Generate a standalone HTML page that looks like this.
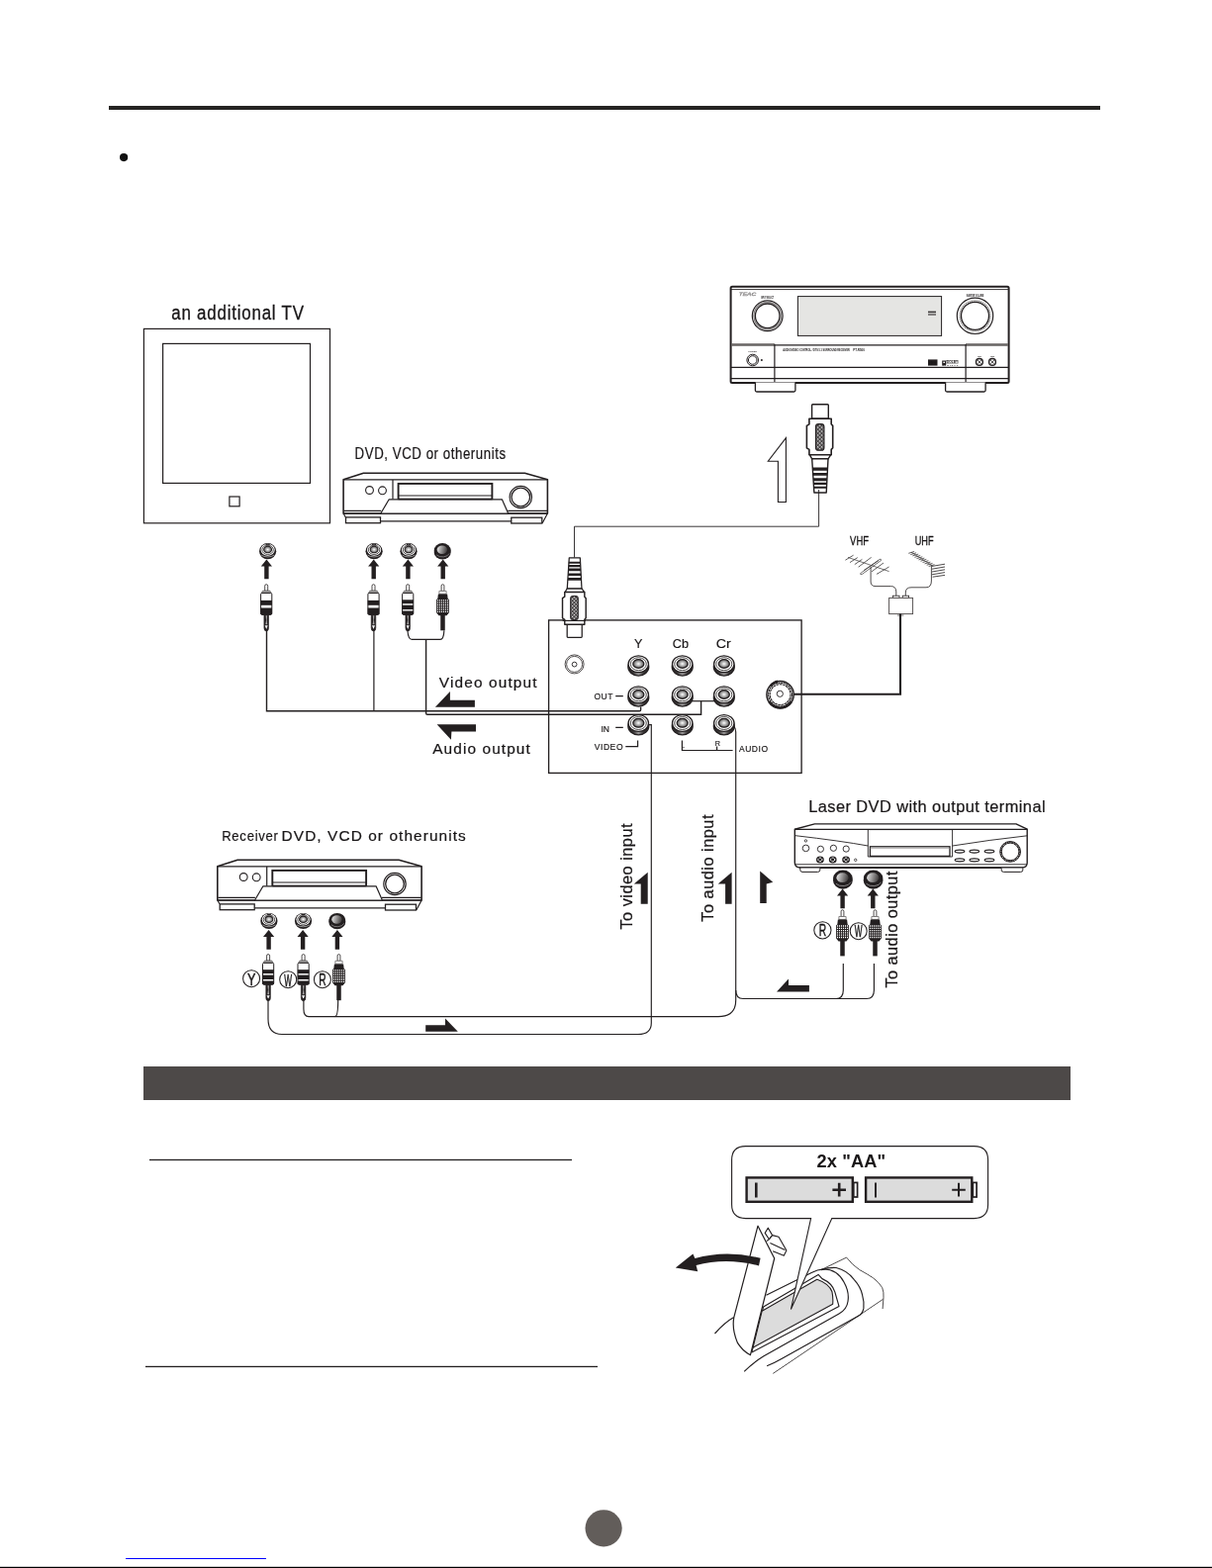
<!DOCTYPE html>
<html lang="en">
<head>
<meta charset="utf-8">
<title>Connections</title>
<style>
html,body{margin:0;padding:0;background:#fff;}
body{width:1225px;height:1585px;overflow:hidden;position:relative;font-family:"Liberation Sans",sans-serif;}
svg{position:absolute;left:0;top:0;display:block;will-change:transform;}
text{font-family:"Liberation Sans",sans-serif;fill:#1a1718;}
.ln{fill:none;stroke:#231f20;stroke-width:1.2;}
.th{fill:none;stroke:#231f20;stroke-width:0.9;}
.k{fill:#231f20;}
.w{fill:#fff;stroke:#231f20;stroke-width:1.2;}
</style>
</head>
<body>
<svg width="1225" height="1585" viewBox="0 0 1225 1585">
<defs>
<pattern id="hatch" width="2.8" height="2.8" patternUnits="userSpaceOnUse" patternTransform="rotate(45)">
<rect width="2.8" height="2.8" fill="#231f20"/>
<rect x="0.6" y="0.6" width="1.7" height="1.7" fill="#fff"/>
</pattern>
<radialGradient id="gj" cx="0.5" cy="0.5" r="0.5">
<stop offset="0" stop-color="#fff"/>
<stop offset="0.45" stop-color="#b5b5b5"/>
<stop offset="1" stop-color="#5a5858"/>
</radialGradient>
<linearGradient id="gd" x1="0" y1="0.4" x2="1" y2="0.6">
<stop offset="0" stop-color="#e2e2e2"/>
<stop offset="0.5" stop-color="#8f8d8d"/>
<stop offset="1" stop-color="#3a3737"/>
</linearGradient>
<linearGradient id="gside" x1="0" x2="1" y1="0" y2="0">
<stop offset="0" stop-color="#231f20"/>
<stop offset="0.25" stop-color="#3a3737"/>
<stop offset="0.5" stop-color="#9a9898"/>
<stop offset="0.75" stop-color="#3a3737"/>
<stop offset="1" stop-color="#231f20"/>
</linearGradient>
<!-- s-video style plug, pointing up, origin = top centre -->
<g id="svplug">
<rect x="-8" y="0.6" width="16.7" height="14.4" rx="0.8" fill="#fff" stroke="#231f20" stroke-width="1.4"/>
<path d="M-10.7 15H11.6V20.6L13.1 22.2V44.6L11.6 46.2V51.5H-10.7V46.2L-13.2 44.6V22.2L-10.7 20.6Z" fill="#fff" stroke="#231f20" stroke-width="1.6" stroke-linejoin="round"/>
<rect x="-4.1" y="20.4" width="8.4" height="26.6" rx="2.8" fill="url(#hatch)" stroke="#231f20" stroke-width="1.2"/>
<path d="M-10.3 51.5L-7.9 55.6H8.4L11.2 51.5Z" fill="#fff" stroke="#231f20" stroke-width="1.4" stroke-linejoin="round"/>
<path d="M-7.9 55.6L-5.7 89.8H6.6L8.4 55.6Z" fill="#fff" stroke="#231f20" stroke-width="1.4" stroke-linejoin="round"/>
<path d="M-7.3 64.4H7.9L7.7 67.6H-7.1ZM-7 69.8H7.6L7.4 72.6H-6.8ZM-6.7 75H7.4L7.3 78H-6.5ZM-6.5 79.6H7.2L7.1 81.9H-6.3ZM-6.3 83.5H7.1L7 85.6H-6.2Z" fill="#231f20"/>
</g>
<!-- RCA jack unit r=10 -->
<g id="jack">
<ellipse cx="0" cy="1.5" rx="10.5" ry="9" fill="url(#gside)" stroke="#231f20" stroke-width="1.2"/>
<ellipse cx="0" cy="-1.4" rx="10.2" ry="8.4" fill="#fff" stroke="#231f20" stroke-width="1.3"/>
<ellipse cx="0" cy="-1.4" rx="8" ry="6.5" fill="none" stroke="#231f20" stroke-width="0.8"/>
<ellipse cx="0" cy="-1.6" rx="5.5" ry="4.4" fill="url(#gj)" stroke="#231f20" stroke-width="1.3"/>
</g>
<g id="jackd">
<ellipse cx="0" cy="1.2" rx="10.8" ry="9.6" fill="#231f20"/>
<ellipse cx="0" cy="-1" rx="10.6" ry="9" fill="#231f20"/>
<path d="M-7.6 5A9.4 6.4 0 0 0 8.8 3.2" fill="none" stroke="#a9a7a7" stroke-width="0.8"/>
<ellipse cx="-0.4" cy="-1.6" rx="6.6" ry="5.3" fill="url(#gd)"/>
</g>
<!-- solid up arrow, origin = tip -->
<path id="uparr" d="M0 0L5.6 6.9H2.2V19.7H-2.2V6.9H-5.6Z" fill="#231f20"/>
<!-- RCA plug banded, origin = pin top centre -->
<g id="plugb">
<path d="M-1.5 6.6V1.5A1.5 1.5 0 0 1 1.5 1.5V6.6Z" fill="#fff" stroke="#231f20" stroke-width="0.8"/>
<path d="M-3.6 6.4H3.6L5 8.7H-5Z" fill="#a5a3a3" stroke="#4a4747" stroke-width="0.6"/>
<rect x="-5.6" y="8.8" width="11.2" height="21.8" rx="1.2" fill="#fff" stroke="#231f20" stroke-width="1"/>
<rect x="-5.8" y="16.2" width="11.6" height="4.9" fill="#231f20"/>
<path d="M-5.8 23.8H5.8V29.6L4.6 31H-4.6L-5.8 29.6Z" fill="#231f20"/>
<path d="M-2.3 31H2.3V44A2.3 3.2 0 0 1 -2.3 44Z" fill="#231f20" stroke="#231f20" stroke-width="0.6"/>
<path d="M-0.7 31.6H0.9L0.5 36.2L1 40.6H-0.9L-0.2 36.2Z" fill="#a8a6a6"/>
<path d="M-1.5 41.6H1.5L0 45.4Z" fill="#fff"/>
</g>
<!-- RCA plug grid style, origin = pin top centre -->
<g id="plugg">
<path d="M-1.4 6.8V1.4A1.4 1.4 0 0 1 1.4 1.4V6.8Z" fill="#fff" stroke="#231f20" stroke-width="0.8"/>
<path d="M-3.6 6.7H3.6V9.6H-3.6Z" fill="#fff" stroke="#6a6767" stroke-width="0.8"/>
<path d="M-4.6 9.8H4.6L5.2 14.6L6.4 15.4V28.6L4 31.6H-4L-6.4 28.6V15.4L-5.2 14.6Z" fill="#231f20"/>
<path fill="#fff" d="M-5.55 15.55h1.1v1.3h-1.1zM-3.55 15.55h1.1v1.3h-1.1zM-1.55 15.55h1.1v1.3h-1.1zM0.45 15.55h1.1v1.3h-1.1zM2.45 15.55h1.1v1.3h-1.1zM4.45 15.55h1.1v1.3h-1.1zM-5.55 17.85h1.1v1.3h-1.1zM-3.55 17.85h1.1v1.3h-1.1zM-1.55 17.85h1.1v1.3h-1.1zM0.45 17.85h1.1v1.3h-1.1zM2.45 17.85h1.1v1.3h-1.1zM4.45 17.85h1.1v1.3h-1.1zM-5.55 20.15h1.1v1.3h-1.1zM-3.55 20.15h1.1v1.3h-1.1zM-1.55 20.15h1.1v1.3h-1.1zM0.45 20.15h1.1v1.3h-1.1zM2.45 20.15h1.1v1.3h-1.1zM4.45 20.15h1.1v1.3h-1.1zM-5.55 22.45h1.1v1.3h-1.1zM-3.55 22.45h1.1v1.3h-1.1zM-1.55 22.45h1.1v1.3h-1.1zM0.45 22.45h1.1v1.3h-1.1zM2.45 22.45h1.1v1.3h-1.1zM4.45 22.45h1.1v1.3h-1.1zM-5.55 24.75h1.1v1.3h-1.1zM-3.55 24.75h1.1v1.3h-1.1zM-1.55 24.75h1.1v1.3h-1.1zM0.45 24.75h1.1v1.3h-1.1zM2.45 24.75h1.1v1.3h-1.1zM4.45 24.75h1.1v1.3h-1.1zM-5.55 27.05h1.1v1.3h-1.1zM-3.55 27.05h1.1v1.3h-1.1zM-1.55 27.05h1.1v1.3h-1.1zM0.45 27.05h1.1v1.3h-1.1zM2.45 27.05h1.1v1.3h-1.1zM4.45 27.05h1.1v1.3h-1.1z"/>
<rect x="-2.25" y="31" width="4.5" height="15.6" fill="#231f20"/>
</g>

<g id="jacks">
<ellipse cx="0" cy="0.4" rx="8.6" ry="8.1" fill="#231f20"/>
<ellipse cx="0" cy="-1" rx="7.1" ry="6" fill="#fff"/>
<ellipse cx="0" cy="-1" rx="5.7" ry="4.7" fill="none" stroke="#231f20" stroke-width="0.8"/>
<ellipse cx="0" cy="-1.3" rx="3.9" ry="3.2" fill="url(#gj)" stroke="#231f20" stroke-width="1.1"/>
<path d="M-6.4 4.3A8 4.6 0 0 0 6.4 4.3" fill="none" stroke="#c9c9c9" stroke-width="0.7"/>
<path d="M-2 -6.6Q0 -5.2 2 -6.6" fill="none" stroke="#231f20" stroke-width="1.2"/>
</g>

<g id="plugc">
<path d="M-1.5 6.6V1.5A1.5 1.5 0 0 1 1.5 1.5V6.6Z" fill="#fff" stroke="#231f20" stroke-width="0.8"/>
<path d="M-3.6 6.4H3.6L5 8.7H-5Z" fill="#a5a3a3" stroke="#4a4747" stroke-width="0.6"/>
<rect x="-5.6" y="8.8" width="11.2" height="21.8" rx="1.2" fill="#fff" stroke="#231f20" stroke-width="1"/>
<rect x="-5.8" y="15.6" width="11.6" height="3.9" fill="#231f20"/>
<rect x="-5.8" y="21" width="11.6" height="4.4" fill="#231f20"/>
<path d="M-5.8 26.8H5.8V29.6L4.6 31H-4.6L-5.8 29.6Z" fill="#231f20"/>
<path d="M-2.3 31H2.3V44A2.3 3.2 0 0 1 -2.3 44Z" fill="#231f20" stroke="#231f20" stroke-width="0.6"/>
<path d="M-0.7 31.6H0.9L0.5 36.2L1 40.6H-0.9L-0.2 36.2Z" fill="#a8a6a6"/>
<path d="M-1.5 41.6H1.5L0 45.4Z" fill="#fff"/>
</g>

</defs>
<!-- page furniture -->
<rect x="110" y="107" width="1002" height="4" fill="#252422"/>
<circle cx="125.1" cy="159.1" r="4.1" fill="#111"/>
<rect x="145" y="1078" width="937" height="34" fill="#4d4948"/>
<rect x="151" y="1171.8" width="427" height="1.3" fill="#231f20"/>
<rect x="147" y="1380.8" width="457" height="1.3" fill="#231f20"/>
<circle cx="610.1" cy="1544.8" r="18.6" fill="#625d5a"/>
<rect x="127" y="1575" width="142" height="1" fill="#0000ff"/>
<rect x="0" y="1583.8" width="1225" height="1.2" fill="#000"/>
<g id="tv">
<rect x="145.4" y="332.4" width="188.1" height="196.4" class="ln" stroke-width="1.1"/>
<rect x="164.6" y="347.4" width="148.9" height="141" class="ln" stroke-width="1.1"/>
<rect x="231.9" y="502" width="10.2" height="9.8" class="ln" stroke-width="1"/>
<text transform="translate(173.2 322.9) scale(0.83 1)" font-size="20.4" letter-spacing="0.95" fill="#0d0b0c" stroke="#0d0b0c" stroke-width="0.3">an additional TV</text>
</g>

<g id="amp">
<!-- body -->
<rect x="738.6" y="289.7" width="281" height="97.2" rx="1.5" fill="#fff" stroke="#231f20" stroke-width="2"/>
<line x1="739" y1="292.6" x2="1019" y2="292.6" class="th"/>
<line x1="739" y1="382.6" x2="1019" y2="382.6" class="ln"/>
<line x1="739" y1="371.4" x2="1019" y2="371.4" class="ln" stroke-width="1.1"/>
<line x1="783" y1="348.8" x2="976" y2="348.8" class="ln" stroke-width="1.4"/>
<rect x="739" y="347.2" width="44" height="2.6" fill="#6b6867"/>
<rect x="976" y="347.2" width="43" height="2.6" fill="#6b6867"/>
<line x1="782.9" y1="348" x2="782.9" y2="386.6" class="ln" stroke-width="1.3"/>
<line x1="976.1" y1="348" x2="976.1" y2="386.6" class="ln" stroke-width="1.4"/>
<!-- feet -->
<path d="M763.4 386.5v8a1.5 1.5 0 0 0 1.5 1.5h37.5a1.5 1.5 0 0 0 1.5-1.5v-8" fill="#fff" stroke="#231f20" stroke-width="1.3"/>
<path d="M955.6 386.5v8a1.5 1.5 0 0 0 1.5 1.5h37.5a1.5 1.5 0 0 0 1.5-1.5v-8" fill="#fff" stroke="#231f20" stroke-width="1.3"/>
<!-- display -->
<rect x="806.4" y="299.6" width="145.2" height="39.8" fill="#e5e5e3" stroke="#231f20" stroke-width="1"/>
<rect x="938" y="314.6" width="8" height="1.6" fill="#3a3737"/>
<rect x="938" y="317.2" width="8" height="1.6" fill="#6a6767"/>
<!-- knobs -->
<circle cx="775.7" cy="319.3" r="15.4" fill="#fff" stroke="#231f20" stroke-width="1.2"/>
<circle cx="775.7" cy="319.3" r="13.8" fill="none" stroke="#8a8787" stroke-width="1.4"/>
<circle cx="775.7" cy="319.3" r="12.3" fill="#fff" stroke="#231f20" stroke-width="1.3"/>
<circle cx="985.5" cy="319.3" r="18.2" fill="#fff" stroke="#231f20" stroke-width="1.2"/>
<circle cx="985.5" cy="319.3" r="15.4" fill="none" stroke="#8a8787" stroke-width="1.6" stroke-dasharray="1.2 0.8"/>
<circle cx="985.5" cy="319.3" r="14" fill="#fff" stroke="#231f20" stroke-width="1.3"/>
<!-- power -->
<circle cx="760.7" cy="364" r="5.8" fill="#fff" stroke="#231f20" stroke-width="1"/>
<circle cx="760.7" cy="364" r="4.3" fill="#fff" stroke="#231f20" stroke-width="1"/>
<circle cx="769.9" cy="364" r="1" fill="#231f20"/>
<!-- phones jacks -->
<circle cx="989.9" cy="365.9" r="3.4" fill="#fff" stroke="#231f20" stroke-width="1.4"/>
<path d="M988 364l3.8 3.8M991.8 364l-3.8 3.8" stroke="#231f20" stroke-width="0.8"/>
<circle cx="1003" cy="365.9" r="3.4" fill="#fff" stroke="#231f20" stroke-width="1.4"/>
<path d="M1001.1 364l3.8 3.8M1004.9 364l-3.8 3.8" stroke="#231f20" stroke-width="0.8"/>
<!-- tiny texts -->
<text transform="translate(746.2 299.2) scale(0.55 0.4) skewX(-14)" font-size="12" fill="#fff" stroke="#a9a7a7" stroke-width="0.9">TEAC</text>
<text transform="translate(769.30 301.60) scale(0.1477 0.2209)" font-size="12" font-weight="bold" fill="#231f20">INPUT SELECT</text>
<text transform="translate(976.80 299.70) scale(0.1671 0.2209)" font-size="12" font-weight="bold" fill="#231f20">MASTER VOLUME</text>
<text transform="translate(756.40 356.10) scale(0.1853 0.1977)" font-size="12" font-weight="bold" fill="#231f20">POWER</text>
<text transform="translate(988.20 361.10) scale(0.1325 0.1977)" font-size="12" font-weight="bold" fill="#231f20">MIC1</text>
<text transform="translate(1001.30 361.10) scale(0.1325 0.1977)" font-size="12" font-weight="bold" fill="#231f20">MIC2</text>
<text transform="translate(791.20 354.80) scale(0.2041 0.2300)" font-size="12" font-weight="bold" fill="#231f20">AUDIO/VIDEO CONTROL / DTS 5.1 SURROUND RECEIVER</text>
<text transform="translate(862.20 354.80) scale(0.2449 0.2300)" font-size="12" font-weight="bold" fill="#231f20">PT-R500</text>
<!-- logos -->
<rect x="938" y="363.4" width="9.5" height="6.2" fill="#231f20"/>
<text transform="translate(938.70 368.80) scale(0.4556 0.4186)" font-size="12" font-weight="bold" fill="#fff">dts</text>
<rect x="952.2" y="364.5" width="4" height="4.8" fill="#231f20"/>
<rect x="953.4" y="365.6" width="1.6" height="1.4" fill="#fff"/>
<rect x="956.4" y="364.6" width="12.2" height="3" fill="#fff" stroke="#6d6b6b" stroke-width="0.5"/>
<text transform="translate(957.00 367.30) scale(0.2619 0.2326)" font-size="12" font-weight="bold" fill="#4a4747">DOLBY</text>
<text transform="translate(952.40 370.30) scale(0.2414 0.1628)" font-size="12" font-weight="bold" fill="#231f20">D I G I T A L</text>
</g>

<g id="svideo">
<use href="#svplug" transform="translate(828.6 408.2)"/>
<path d="M794.4 442.6L776.3 466.2H786.4V507.5H794.4Z" fill="#fff" stroke="#231f20" stroke-width="1.1" stroke-linejoin="miter"/>
<path d="M827.6 495V532.2H580.5V563.5" class="th" stroke-width="1"/>
</g>

<g id="vcr1" transform="translate(346.6 477.6)">
<g id="vcrshape">
<path d="M0.5 7.1L20.8 0.6H183.8L206.8 7.1V41.4H0.5Z" fill="#fff" stroke="#231f20" stroke-width="1.6" stroke-linejoin="round"/>
<path d="M0.5 7.3H206.8" class="ln" stroke-width="1.2"/>
<path d="M0.5 41.4L2.7 45.2M206.8 41.4L201.6 51.2" class="ln" stroke-width="1.4"/>
<path d="M1 38.7H38.6M166.6 38.7H206.4" class="ln" stroke-width="0.9"/>
<path d="M0.5 41.4H206.8" class="ln" stroke-width="1.5"/>
<rect x="2.9" y="45.3" width="35" height="5.8" fill="#fff" stroke="#231f20" stroke-width="1.3"/>
<rect x="170.2" y="45.6" width="31" height="5.8" fill="#fff" stroke="#231f20" stroke-width="1.3"/>
<path d="M38 49.3H170.2" class="ln" stroke-width="1.5"/>
<path d="M50.4 7.3V27.2" class="ln" stroke-width="1.6"/>
<circle cx="26.9" cy="17.9" r="3.9" fill="#fff" stroke="#231f20" stroke-width="1.1"/>
<circle cx="39.9" cy="18.2" r="3.9" fill="#fff" stroke="#231f20" stroke-width="1.1"/>
<rect x="56" y="11.3" width="94.8" height="15.7" fill="#fff" stroke="#231f20" stroke-width="1.9"/>
<path d="M56 23.4H150.8" class="ln" stroke-width="1.6"/>
<path d="M46.6 27.2H160.8L167.1 41.4H38.2Z" fill="#fff" stroke="#231f20" stroke-width="1.2" stroke-linejoin="round"/>
<path d="M56 27.1H151" class="ln" stroke-width="1.7"/>
<circle cx="179.7" cy="24.9" r="11.2" fill="#fff" stroke="#231f20" stroke-width="1.2"/>
<circle cx="179.7" cy="24.9" r="9.3" fill="#fff" stroke="#231f20" stroke-width="1.3"/>
</g>
</g>
<use href="#vcrshape" transform="translate(219.3 868.6)"/>
<g fill="#0d0b0c" stroke="#0d0b0c" stroke-width="0.2">
<text transform="translate(358.6 463.6) scale(0.85 1)" font-size="15.6" letter-spacing="0.66">DVD, VCD or otherunits</text>
<text transform="translate(224.2 849.9) scale(0.85 1)" font-size="15.4" letter-spacing="0.85">Receiver</text>
<text x="284.6" y="849.9" font-size="15.4" textLength="186.2" lengthAdjust="spacing">DVD, VCD or otherunits</text>
</g>

<g id="topplugs">
<use href="#jacks" x="270.6" y="556.8"/>
<use href="#jacks" x="378.1" y="556.8"/>
<use href="#jacks" x="413" y="556.8"/>
<use href="#jackd" transform="translate(447.2 557) scale(0.79)"/>
<use href="#uparr" x="269.4" y="565.6"/>
<use href="#uparr" x="377.7" y="565.6"/>
<use href="#uparr" x="412.4" y="565.6"/>
<use href="#uparr" x="447.7" y="565.6"/>
<use href="#plugb" x="269.2" y="590.7"/>
<use href="#plugb" x="377.5" y="590.7"/>
<use href="#plugc" x="412.2" y="590.7"/>
<use href="#plugg" x="447.5" y="590.7"/>
</g>
<g id="botplugs">
<use href="#jacks" x="271.9" y="930.6"/>
<use href="#jacks" x="306.5" y="930.6"/>
<use href="#jackd" transform="translate(340.8 930.8) scale(0.79)"/>
<use href="#uparr" transform="translate(271.6 940)"/>
<use href="#uparr" transform="translate(306.1 940)"/>
<use href="#uparr" transform="translate(340.9 940)"/>
<use href="#plugc" x="271.1" y="964.6"/>
<use href="#plugc" x="306.6" y="964.6"/>
<use href="#plugg" x="342.5" y="964.6"/>
<g fill="#fff" stroke="#231f20" stroke-width="1.05">
<circle cx="254.1" cy="989.2" r="8.5"/>
<circle cx="291.2" cy="990.2" r="8.5"/>
<circle cx="325.9" cy="990.2" r="8.5"/>
</g>
<g font-size="16.4" text-anchor="middle" fill="#0d0b0c" stroke="#0d0b0c" stroke-width="0.45">
<text x="254.1" y="996.3" textLength="8.4" lengthAdjust="spacingAndGlyphs">Y</text>
<text x="291.2" y="996.8" textLength="7.8" lengthAdjust="spacingAndGlyphs">W</text>
<text x="325.9" y="996" textLength="7.4" lengthAdjust="spacingAndGlyphs">R</text>
</g>
</g>
<g id="rplugs">
<use href="#jackd" transform="translate(851.9 888.7) scale(0.92)"/>
<use href="#jackd" transform="translate(882.6 888.7) scale(0.92)"/>
<use href="#uparr" transform="translate(851.6 898.6)"/>
<use href="#uparr" transform="translate(882.3 898.6)"/>
<use href="#plugg" x="851.5" y="919.8"/>
<use href="#plugg" x="884.5" y="919.8"/>
<g fill="#fff" stroke="#231f20" stroke-width="1.05">
<circle cx="831.4" cy="940.3" r="8.6"/>
<circle cx="867.7" cy="941.2" r="8.5"/>
</g>
<g font-size="16.4" text-anchor="middle" fill="#0d0b0c" stroke="#0d0b0c" stroke-width="0.45">
<text x="831.4" y="946.4" textLength="7.4" lengthAdjust="spacingAndGlyphs">R</text>
<text x="867.7" y="947.4" textLength="7.8" lengthAdjust="spacingAndGlyphs">W</text>
</g>
</g>

<g id="panel">
<rect x="554.6" y="626.9" width="255.5" height="154.5" fill="none" stroke="#231f20" stroke-width="1.35"/>
<!-- s-video plug into panel (flipped) -->
<use href="#svplug" transform="translate(580.4 644.8) scale(0.9 -0.9)"/>
<path d="M568.6 627.4H592" class="ln" stroke-width="1.2"/>
<!-- small jack -->
<circle cx="580.6" cy="671.4" r="9.5" fill="#fff" stroke="#231f20" stroke-width="0.8"/>
<circle cx="580.6" cy="671.4" r="8" fill="#fff" stroke="#231f20" stroke-width="0.8"/>
<circle cx="580.6" cy="671.6" r="2.4" fill="#fff" stroke="#231f20" stroke-width="0.9"/>
<!-- RCA grid -->
<use href="#jack" x="645.3" y="672.6"/>
<use href="#jack" x="689.7" y="672.6"/>
<use href="#jack" x="731.8" y="672.6"/>
<use href="#jack" x="645.3" y="703.6"/>
<use href="#jack" x="689.7" y="703.6"/>
<use href="#jack" x="731.8" y="703.6"/>
<use href="#jack" x="645.3" y="732.4"/>
<use href="#jack" x="689.7" y="732.4"/>
<use href="#jack" x="731.8" y="732.4"/>
<!-- antenna jack -->
<circle cx="788.6" cy="702.1" r="13.7" fill="#fff" stroke="#231f20" stroke-width="1.5"/>
<circle cx="788.6" cy="702.1" r="12" fill="none" stroke="#231f20" stroke-width="1.2" stroke-dasharray="2.2 0.5"/>
<circle cx="788.6" cy="702.1" r="10.4" fill="none" stroke="#231f20" stroke-width="1.1" stroke-dasharray="2.6 0.6"/>
<path d="M777.4 709.4A13.4 13.4 0 0 0 799.8 709.4" fill="none" stroke="#231f20" stroke-width="2.6"/>
<path d="M778.6 693.4A13.2 13.2 0 0 1 786 688.6" fill="none" stroke="#231f20" stroke-width="2.2"/>
<circle cx="788.3" cy="701.3" r="3.1" fill="#fff" stroke="#231f20" stroke-width="0.9"/>
<!-- labels -->
<g fill="#0d0b0c" stroke="#0d0b0c" stroke-width="0.16">
<text x="645.2" y="655" font-size="12.6" text-anchor="middle">Y</text>
<text x="679.8" y="655" font-size="12.8" textLength="16.2" lengthAdjust="spacingAndGlyphs">Cb</text>
<text x="723.8" y="655" font-size="12.8" textLength="15" lengthAdjust="spacingAndGlyphs">Cr</text>
<text x="600.4" y="707" font-size="8.5" textLength="19" lengthAdjust="spacing">OUT</text>
<text x="607.5" y="740.1" font-size="8.5" textLength="8.4" lengthAdjust="spacing">IN</text>
<text x="600.7" y="758.2" font-size="8.5" textLength="28.8" lengthAdjust="spacing">VIDEO</text>
<text x="747" y="760.1" font-size="8.5" textLength="29" lengthAdjust="spacing">AUDIO</text>
<text x="722.8" y="754.1" font-size="7.4" textLength="5.2" lengthAdjust="spacingAndGlyphs">R</text>
</g>
<text x="688.6" y="756" font-size="7.4" fill="#4a4747" textLength="3.6" lengthAdjust="spacingAndGlyphs">L</text>
<path d="M622.2 703.6H629.8M622.2 735.4H629.8" class="ln" stroke-width="1"/>
<path d="M632.3 754.6H644.6V748.6" class="ln" stroke-width="1"/>
<path d="M689.4 748.6V758.5H740.6M724.6 754.4V758.5" class="ln" stroke-width="1"/>
</g>

<g id="antenna" fill="none" stroke="#3a3737" stroke-width="0.8">
<text x="859.1" y="551.2" font-size="12.4" stroke="#0d0b0c" stroke-width="0.3" fill="#0d0b0c" textLength="18.9" lengthAdjust="spacingAndGlyphs">VHF</text>
<text x="924.7" y="551.2" font-size="12.4" stroke="#0d0b0c" stroke-width="0.3" fill="#0d0b0c" textLength="18.8" lengthAdjust="spacingAndGlyphs">UHF</text>
<!-- VHF boom and elements -->
<path d="M857 563.4L898.6 577.6" stroke-width="0.7"/>
<path d="M854.4 566.2L862.6 561.2M859 568.6L866.8 563.6M863.8 570.6L871.4 565.4M867.6 573.2L880.6 563.4M873 576.6L888 566.6M881 577.8L893 569M886 580.4L898.6 573"/>
<path d="M869.6 579.6L889 565.4Q891 564.6 890.4 566.6L871.4 580.4Q869 581 869.6 579.6Z" stroke-width="0.7"/>
<!-- UHF -->
<path d="M921 558.2L942.6 572" stroke-width="0.7"/>
<path d="M918.3 559.3L924.1 557.5M920.3 560.6L926.1 558.8M922.4 561.9L928.2 560.1M924.4 563.3L930.2 561.5M926.5 564.6L932.3 562.8M928.5 565.9L934.3 564.1M930.5 567.2L936.3 565.4M932.6 568.5L938.4 566.7M934.6 569.9L940.4 568.1M936.7 571.2L942.5 569.4M938.7 572.5L944.5 570.7"/>
<path d="M942 572.4L955 570.2M942 575.2L955 573M942 578L955 575.8M942 580.8L955 578.6M942.6 583.2L955 581.4" stroke-width="0.9"/>
<!-- masts / leads -->
<path d="M880.1 572.6V588Q880.1 592.6 885 592.6H900.6Q905.6 592.6 905.8 598V602.2" stroke-width="0.9"/>
<path d="M941.4 571.6V587Q941.4 593.8 936 593.8H921Q915.4 593.8 915.3 599V602.2" stroke-width="0.9"/>
<rect x="902.6" y="602.2" width="6.4" height="2.2" fill="#fff" stroke="#231f20" stroke-width="0.8"/>
<rect x="912.2" y="602.2" width="6.4" height="2.2" fill="#fff" stroke="#231f20" stroke-width="0.8"/>
<rect x="898.6" y="604.4" width="24" height="16.2" fill="#fff" stroke="#4a4646" stroke-width="0.9"/>
<path d="M907 622H913.4" stroke-width="0.7"/>
</g>

<g id="wires" fill="none" stroke="#231f20">
<!-- video output (to TV and DVD) -->
<path d="M269.5 637V718.8H646.4Q647.6 718.8 647.6 717.4V714.4" stroke-width="1.4"/>
<path d="M377.9 637V718.4" stroke-width="1.2"/>
<!-- audio output -->
<path d="M411.9 637.2Q412.6 646.4 416.4 646.4H445Q448.4 646.4 448.9 637.4" stroke-width="1.15"/>
<path d="M430.6 646.4V721Q430.6 722.3 432 722.3H708.6V708.7" stroke-width="1.4"/>
<path d="M699.2 708.7H723" stroke-width="1.2"/>
<!-- video input -->
<path d="M655.4 732.6H658.3V1034Q658.3 1045.5 645 1045.5H285Q271 1045.5 271 1030V1009" stroke-width="1.15"/>
<!-- audio input -->
<path d="M741.4 733.6Q743.7 736 743.7 740V1011Q743.7 1027.6 726 1027.6H312Q306.9 1027.6 306.9 1020V1009" stroke-width="1.15"/>
<path d="M341.7 1010Q341.7 1027.6 338.8 1027.6" stroke-width="1.15"/>
<!-- laser dvd audio out -->
<path d="M743.7 1001Q743.7 1009.5 751 1009.5H876Q883.4 1009.5 883.4 1001V974" stroke-width="1.15"/>
<path d="M852.3 974V1001Q852.3 1009.5 845 1009.5" stroke-width="1.15"/>
<!-- antenna -->
<path d="M910 620.5V701.8H802.6" stroke-width="2.1"/>
</g>
<g id="arrows" fill="#231f20">
<path d="M439.9 714.8L454.9 699.1V707.7H479.9V714.8Z"/>
<path d="M441.6 732.3H481V739.5H456.4L455.9 747.7Z"/>
<path d="M430.2 1036.3H450V1029.6L462.8 1042.7H430.2Z"/>
<path d="M785 1002.6L797 989.5V996H817.9V1002.6Z"/>
<path d="M654.7 881.8L640.8 893.6H647.7V913.7H654.7Z"/>
<path d="M739.6 881.8L725.7 893.6H733.1V913.7H739.6Z"/>
<path d="M768.2 880.5L781.2 891.8L774.7 893.6V912.9H768.2Z"/>
</g>

<g id="dvd">
<path d="M803.3 838.2L823.4 832.9H1027L1038.2 838.2V872Q1038.2 877 1033 877H809Q803.3 877 803.3 872Z" fill="#fff" stroke="#231f20" stroke-width="1.4" stroke-linejoin="round"/>
<path d="M803.3 838.4H1038.2" fill="none" stroke="#231f20" stroke-width="1.1"/>
<path d="M803.6 873.8H1038" fill="none" stroke="#231f20" stroke-width="0.9"/>
<path d="M803.2 844.6Q850 850 877.3 855M1038.2 844.8Q1000 849 962.6 855" fill="none" stroke="#231f20" stroke-width="0.9"/>
<path d="M877.3 838.4V866H962.6V838.4" fill="none" stroke="#231f20" stroke-width="0.9"/>
<path d="M877.3 838.6H962.6" fill="none" stroke="#231f20" stroke-width="0.8"/>
<rect x="879.4" y="855.8" width="80.6" height="9.6" fill="#fff" stroke="#231f20" stroke-width="1.3"/>
<path d="M879.4 857.6H960" stroke="#8a8787" stroke-width="0.6" fill="none"/>
<path d="M808 877.2H1034" stroke="#231f20" stroke-width="1.5" fill="none"/>
<!-- feet -->
<path d="M808.8 877.6V879.4Q808.8 881.4 811 881.4H826.6Q828.8 881.4 828.8 879.4V877.6" fill="#fff" stroke="#231f20" stroke-width="1"/>
<path d="M1012.2 877.6V879.4Q1012.2 881.4 1014.4 881.4H1031.6Q1033.8 881.4 1033.8 879.4V877.6" fill="#fff" stroke="#231f20" stroke-width="1"/>
<!-- left buttons -->
<circle cx="814.4" cy="849.9" r="1.2" fill="#fff" stroke="#231f20" stroke-width="0.8"/>
<circle cx="814.5" cy="857.4" r="3.3" fill="#fff" stroke="#231f20" stroke-width="0.9"/>
<circle cx="829.4" cy="858.3" r="3.1" fill="#fff" stroke="#231f20" stroke-width="0.9"/>
<circle cx="842.4" cy="857.3" r="3.1" fill="#fff" stroke="#231f20" stroke-width="0.9"/>
<circle cx="855.2" cy="858.1" r="3.1" fill="#fff" stroke="#231f20" stroke-width="0.9"/>
<g fill="#231f20">
<ellipse cx="828.9" cy="868.9" rx="3.9" ry="3.5"/>
<ellipse cx="841.7" cy="868.9" rx="3.9" ry="3.5"/>
<ellipse cx="855.1" cy="868.9" rx="3.9" ry="3.5"/>
</g>
<g fill="none" stroke="#fff" stroke-width="1">
<ellipse cx="828.9" cy="868.9" rx="2.1" ry="1.9"/>
<ellipse cx="841.7" cy="868.9" rx="2.1" ry="1.9"/>
<ellipse cx="855.1" cy="868.9" rx="2.1" ry="1.9"/>
</g>
<path d="M826.6 866.8l4.6 4.2M831.2 866.8l-4.6 4.2M839.4 866.8l4.6 4.2M844 866.8l-4.6 4.2M852.8 866.8l4.6 4.2M857.4 866.8l-4.6 4.2" stroke="#231f20" stroke-width="0.9" fill="none"/>
<circle cx="864.7" cy="869.3" r="1.2" fill="#fff" stroke="#231f20" stroke-width="0.8"/>
<!-- right oval buttons -->
<g fill="#fff" stroke="#231f20" stroke-width="1.2">
<ellipse cx="970" cy="860.6" rx="4.8" ry="1.5"/>
<ellipse cx="984.8" cy="860.6" rx="4.8" ry="1.5"/>
<ellipse cx="1000" cy="860.6" rx="4.8" ry="1.5"/>
<ellipse cx="970" cy="869.3" rx="4.8" ry="1.5"/>
<ellipse cx="984.8" cy="869.3" rx="4.8" ry="1.5"/>
<ellipse cx="1000" cy="869.3" rx="4.8" ry="1.5"/>
</g>
<circle cx="1021.1" cy="860.9" r="10.4" fill="#fff" stroke="#231f20" stroke-width="1"/>
<circle cx="1021.1" cy="860.9" r="9.6" fill="none" stroke="#231f20" stroke-width="1.2" stroke-dasharray="1.5 0.7"/>
<circle cx="1021.1" cy="860.9" r="8.8" fill="#fff" stroke="#231f20" stroke-width="1"/>
</g>

<g id="labels" fill="#0d0b0c" stroke="#0d0b0c" stroke-width="0.2">
<text x="443.8" y="695.4" font-size="15.4" textLength="98.7" lengthAdjust="spacing">Video output</text>
<text x="437.2" y="762" font-size="15.4" textLength="98.6" lengthAdjust="spacing">Audio output</text>
<text x="817.2" y="820.6" font-size="16.4" textLength="239.4" lengthAdjust="spacing">Laser DVD with output terminal</text>
<text transform="translate(638.5 939.6) rotate(-90)" font-size="16.4" textLength="107.2" lengthAdjust="spacing">To video input</text>
<text transform="translate(721.2 931.7) rotate(-90)" font-size="16.4" textLength="108.2" lengthAdjust="spacing">To audio input</text>
<text transform="translate(907 998.6) rotate(-90)" font-size="16.4" textLength="118" lengthAdjust="spacing">To audio output</text>
</g>

<g id="battery">
<!-- remote body -->
<g fill="none" stroke="#231f20" stroke-width="1.15">
<path d="M722.5 1348Q733 1336.4 741.8 1331.6"/>
<path d="M774.4 1309.3L820.2 1286.4Q826 1283.4 832.7 1282.9Q846 1283 853 1296Q858.6 1306 857 1315.5Q856 1323.6 848 1328L771.6 1371Q761 1377.6 752.2 1386.3"/>
<path d="M829.9 1283.6Q838 1281 845.2 1281.5Q856 1284 863.2 1293.3Q870 1301 871.5 1308.6Q873.6 1316 872.9 1322.4Q872 1327.4 868.8 1329.4L790 1373.4Q782 1378 775.1 1380.7"/>
<path d="M829.9 1283.6L855.6 1271.1Q861 1278.4 868.8 1283.6Q877 1288 882.7 1291.9Q888.6 1296.4 891.7 1301.6Q893.4 1306 893 1311.3L892.1 1323.1" stroke-width="0.8"/>
<path d="M892.4 1313.4L781.3 1388.4" stroke-width="0.8"/>
</g>
<!-- compartment -->
<path d="M759.8 1367L771.6 1321L827.1 1288.4L831 1292.6Q841 1297 843.8 1305.8L848 1320.4Z" fill="#fff" stroke="#231f20" stroke-width="1.15" stroke-linejoin="round"/>
<path d="M761 1362.2L770.2 1325.2L825.8 1293.3Q838 1297.6 841 1305.8Q842.2 1312 841.7 1318.3Z" fill="#dcdcdc" stroke="#231f20" stroke-width="1.1" stroke-linejoin="round"/>
<!-- bubble -->
<path d="M753.6 1158.6H984.6Q998.6 1158.6 998.6 1172.6V1217.6Q998.6 1231.6 984.6 1231.6H840.8L799.4 1323.6L819.6 1231.6H753.6Q739.6 1231.6 739.6 1217.6V1172.6Q739.6 1158.6 753.6 1158.6Z" fill="#fff" stroke="#231f20" stroke-width="1.1" stroke-linejoin="miter"/>
<!-- lid -->
<path d="M766 1239.2L741.8 1331.6Q739.6 1343 745.3 1357.1Q750 1365 758.4 1369.8L782.7 1272Z" fill="#fff" stroke="#231f20" stroke-width="1.2" stroke-linejoin="round"/>
<path d="M773.2 1246.4L776.3 1241.2L780.6 1248.6L777.4 1252.8Z" fill="#fff" stroke="#231f20" stroke-width="1.1" stroke-linejoin="round"/>
<path d="M774.6 1254.6L777.4 1252.8L780.6 1248.6L787 1250.2L794.9 1264L792.3 1269.3L781.2 1264.8" fill="#fff" stroke="#231f20" stroke-width="1.1" stroke-linejoin="round"/>
<path d="M778.4 1256.5L793.4 1263.4" fill="none" stroke="#231f20" stroke-width="1.1"/>
<!-- curved arrow -->
<path d="M768.6 1271.8Q734 1263 702.4 1272L700.4 1267.4L682.8 1281.6L705.2 1285.2L703.6 1279Q734 1271 767 1279.4Z" fill="#231f20"/>
<!-- batteries -->
<rect x="754.6" y="1190.4" width="107.2" height="24.4" fill="#dcdcdc" stroke="#231f20" stroke-width="2.4"/>
<rect x="862.8" y="1195.4" width="3.8" height="14.6" fill="#fff" stroke="#231f20" stroke-width="1.7"/>
<rect x="875.1" y="1190.4" width="107.2" height="24.4" fill="#dcdcdc" stroke="#231f20" stroke-width="2.4"/>
<rect x="983.3" y="1195.4" width="3.8" height="14.6" fill="#fff" stroke="#231f20" stroke-width="1.7"/>
<path d="M764.3 1195.4V1210.6M841.4 1202.7H855M848.2 1195.8V1209.6" stroke="#231f20" stroke-width="2.6" fill="none"/>
<path d="M885 1195.4V1210.6" stroke="#231f20" stroke-width="1.9" fill="none"/>
<path d="M962.2 1202.7H975.8M969 1195.8V1209.6" stroke="#231f20" stroke-width="2" fill="none"/>
<text x="825.6" y="1179.8" font-size="18.2" font-weight="bold" fill="#0d0b0c" textLength="69.6" lengthAdjust="spacing">2x "AA"</text>
</g>

</svg>
</body>
</html>
